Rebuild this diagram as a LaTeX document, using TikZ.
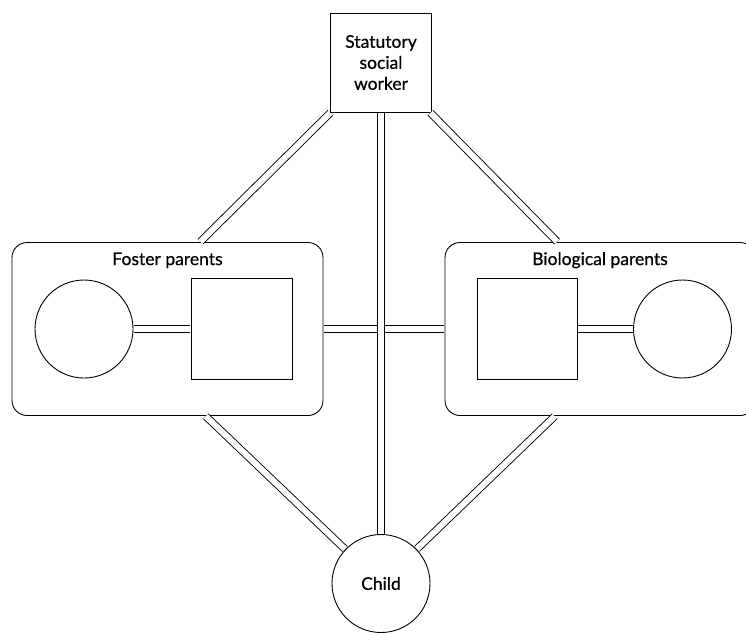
\documentclass[tikz,border=0pt]{standalone}
\usepackage{fontspec}
\setmainfont{Lato}[FakeBold=0.6]
\usepackage{tikz}
\usetikzlibrary{calc}

\begin{document}
\begin{tikzpicture}[x=1pt,y=-1pt,line width=0.9pt,
    font=\fontsize{17.5}{21}\selectfont,
    person/.style={draw,minimum width=101pt,minimum height=101pt,inner sep=0pt},
    partner/.style={draw,circle,minimum size=98pt,inner sep=0pt},
    family/.style={draw,rounded corners=15pt,minimum width=311pt,minimum height=173pt},
    link/.style={double,double distance=6pt,shorten <=0.5pt,shorten >=0.5pt}]
  \useasboundingbox (0,0) rectangle (746,632);
  \node at (381,62.5) [person,minimum height=99pt,align=center] (worker) {Statutory\\social\\worker};
  \node at (167.5,329) [family] (foster) {};
  \node at (600,329) [family,minimum width=310pt] (bio) {};
  \node at (84,329) [partner] (fosterMum) {};
  \node at (241.5,329) [person] (fosterDad) {};
  \node at (527,329) [person,minimum width=100pt] (bioDad) {};
  \node at (682.5,329) [partner] (bioMum) {};
  \node at (381,583.5) [partner] (child) {Child};
  \node[anchor=base] at ([yshift=-23pt]foster.north) (fosterLabel) {Foster parents};
  \node[anchor=base] at ([yshift=-23pt]bio.north) (bioLabel) {Biological parents};
  % where the links meet the two families
  \coordinate (fosterTop) at ([xshift=32.5pt]foster.north);
  \coordinate (fosterBottom) at ([xshift=38pt]foster.south);
  \coordinate (bioTop) at ([xshift=-42.5pt]bio.north);
  \coordinate (bioBottom) at ([xshift=-45pt]bio.south);
  \draw[link] (fosterMum) -- (fosterDad);
  \draw[link] (bioDad) -- (bioMum);
  \draw[link] (foster.east) -- (bio.west);
  \draw[link] (worker) -- (child);
  \draw[link] (worker) -- (fosterTop);
  \draw[link] (worker) -- (bioTop);
  \draw[link] (fosterBottom) -- (child);
  \draw[link] (bioBottom) -- (child);
\end{tikzpicture}
\end{document}
